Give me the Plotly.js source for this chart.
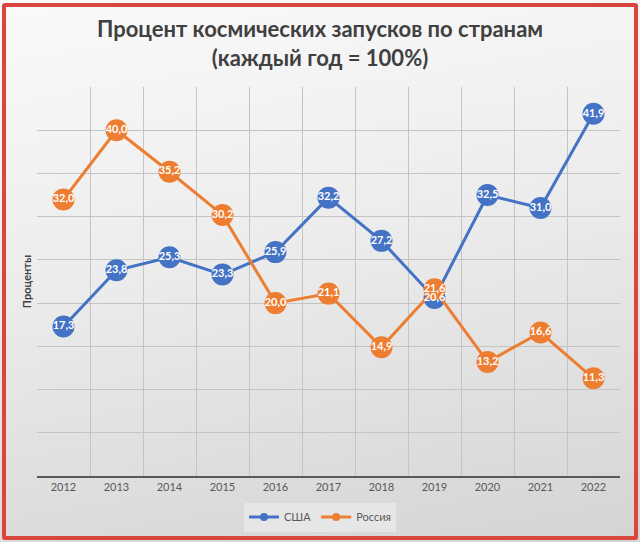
<!DOCTYPE html>
<html>
<head>
<meta charset="utf-8">
<script src="https://cdn.plot.ly/plotly-3.0.1.min.js"></script>
<style>
  html, body { margin: 0; padding: 0; background: #fff; }
  #wrap {
    position: relative; width: 640px; height: 542px;
    background: linear-gradient(170deg, #fafafa 0%, #ececec 45%, #d4d4d4 100%);
  }
  #frame {
    position: absolute; left: 2px; top: 3px; right: 2px; bottom: 2px;
    border: 4px solid #d9463b; border-radius: 3px; pointer-events: none;
  }
  #chart { position: absolute; left: 0; top: 0; width: 640px; height: 542px; }
</style>
</head>
<body>
<div id="wrap">
  <div id="chart"></div>
  <div id="frame"></div>
</div>
<script>
// годы и доли запусков (%)
var years = ['2012', '2013', '2014', '2015', '2016', '2017', '2018', '2019', '2020', '2021', '2022'];
var usa = [17.3, 23.8, 25.3, 23.3, 25.9, 32.2, 27.2, 20.6, 32.5, 31.0, 41.9];
var russia = [32.0, 40.0, 35.2, 30.2, 20.0, 21.1, 14.9, 21.6, 13.2, 16.6, 11.3];

var FONT = 'Lato, "Open Sans", sans-serif';

function fmt(v) { return v.toFixed(1).replace('.', ','); }

function lineTrace(name, vals, color) {
  return {
    x: years, y: vals, name: name, type: 'scatter', mode: 'lines+markers',
    line: { color: color, width: 3 },
    marker: { color: color, size: 22 },
    showlegend: false, cliponaxis: false,
    hoverinfo: 'x+y+name'
  };
}

// подписи отдельно, чтобы они были поверх всех маркеров
function labelTrace(vals) {
  return {
    x: years, y: vals, type: 'scatter', mode: 'text',
    text: vals.map(fmt), textposition: 'middle center',
    textfont: { family: FONT, size: 11, color: '#ffffff', weight: 'bold' },
    showlegend: false, cliponaxis: false, hoverinfo: 'skip'
  };
}

// пустые трассы только для легенды (маленькие маркеры)
function legendTrace(name, color) {
  return {
    x: [null], y: [null], name: name, type: 'scatter', mode: 'lines+markers',
    line: { color: color, width: 3 }, marker: { color: color, size: 8 },
    showlegend: true, hoverinfo: 'skip'
  };
}

var data = [
  lineTrace('США', usa, '#4472c4'),
  lineTrace('Россия', russia, '#ed7d31'),
  labelTrace(usa),
  labelTrace(russia),
  legendTrace('США', '#4472c4'),
  legendTrace('Россия', '#ed7d31')
];

var layout = {
  width: 640, height: 542,
  margin: { l: 37, r: 20, t: 87, b: 66 },
  paper_bgcolor: 'rgba(0,0,0,0)',
  plot_bgcolor: 'rgba(0,0,0,0)',
  font: { family: FONT, color: '#595959' },
  title: {
    text: 'Процент космических запусков по странам<br>(каждый год = 100%)',
    font: { size: 22, color: '#404040', weight: 'bold' },
    x: 0.5, xref: 'container', y: 1 - 37 / 542, yref: 'container', yanchor: 'middle'
  },
  xaxis: {
    type: 'category', tickson: 'boundaries', range: [-0.5, 10.5],
    showgrid: true, gridcolor: '#c4c4c4', gridwidth: 1,
    showline: true, linecolor: '#595959', linewidth: 1.5,
    ticks: '', tickfont: { size: 11, color: '#595959' },
    fixedrange: true
  },
  yaxis: {
    range: [0, 45], dtick: 5, tick0: 0,
    showgrid: true, gridcolor: '#c4c4c4', gridwidth: 1,
    zeroline: false, showticklabels: false, ticks: '',
    title: { text: 'Проценты', font: { size: 11, color: '#404040', weight: 'bold' }, standoff: 2 },
    fixedrange: true
  },
  showlegend: true,
  legend: {
    orientation: 'h', x: 0.5, xref: 'container', xanchor: 'center',
    y: 1 - 517 / 542, yref: 'container', yanchor: 'middle',
    bgcolor: '#e6e6e6', font: { size: 11, color: '#595959' },
    itemwidth: 30
  }
};

Plotly.newPlot('chart', data, layout, { displayModeBar: false, responsive: false });
</script>
</body>
</html>
